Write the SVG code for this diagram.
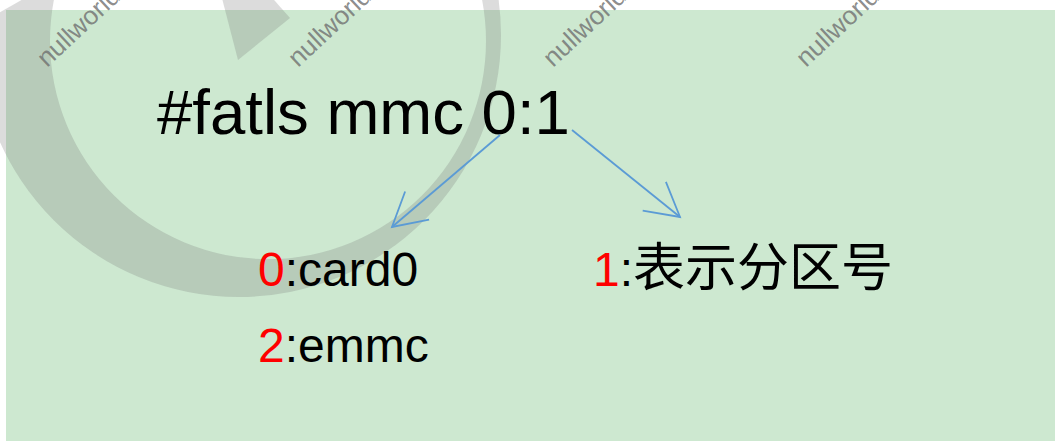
<svg xmlns="http://www.w3.org/2000/svg" width="1055" height="441" viewBox="0 0 1055 441">
  <style>
    .wm { fill: #787878; fill-opacity: 0.26; }
    .wmt { font-family: "Liberation Sans", Arial, sans-serif; font-size: 26px; fill: #6f6f6f; fill-opacity: 0.8; }
    .lat { font-family: "Liberation Sans", Arial, sans-serif; fill: #000000; }
    .red { fill: #ff0000; }
    .cjk { font-family: "Noto Sans CJK SC", "Noto Sans", sans-serif; }
    .conn { fill: none; stroke: #5b9bd5; stroke-width: 1.8; }
  </style>
  <defs>
    <marker id="open" markerUnits="userSpaceOnUse" viewBox="-40 -24 44 48" refX="0" refY="0" markerWidth="44" markerHeight="48" orient="auto" overflow="visible">
      <path d="M -33 -18.5 L 0 0 L -33 18.5" fill="none" stroke="#5b9bd5" stroke-width="1.8"/>
    </marker>
    <clipPath id="capclip">
      <polygon points="-50,41 100,-45 700,-45 700,500 -50,500"/>
    </clipPath>
  </defs>

  <!-- background -->
  <rect x="0" y="0" width="1055" height="441" fill="#ffffff"/>
  <rect x="6" y="10" width="1049" height="431" fill="#cde8d0"/>

  <!-- watermark -->
  <g id="watermark">
    <path class="wm" fill-rule="evenodd" clip-path="url(#capclip)"
      d="M -23 35 a 262 262 0 1 0 524 0 a 262 262 0 1 0 -524 0 Z M 50 41 a 218 218 0 1 0 436 0 a 218 218 0 1 0 -436 0 Z"/>
    <polygon class="wm" points="238,60 290,18 252,-25 216,-25"/>
    <text class="wmt" x="47" y="68" transform="rotate(-43 47 68)">nullworld</text>
    <text class="wmt" x="298" y="68" transform="rotate(-43 298 68)">nullworld</text>
    <text class="wmt" x="553" y="68" transform="rotate(-43 553 68)">nullworld</text>
    <text class="wmt" x="806" y="68" transform="rotate(-43 806 68)">nullworld</text>
  </g>

  <!-- nodes -->
  <g id="cmd">
    <text class="lat" x="157" y="134" font-size="63.5">#fatls mmc 0:1</text>
  </g>
  <g id="card0">
    <text class="lat" x="258" y="286" font-size="48"><tspan class="red">0</tspan>:card0</text>
  </g>
  <g id="emmc">
    <text class="lat" x="258" y="362" font-size="48"><tspan class="red">2</tspan>:emmc</text>
  </g>
  <g id="partition">
    <text class="lat" x="593" y="286" font-size="48"><tspan class="red">1</tspan>:<tspan class="cjk" font-size="52">表示分区号</tspan></text>
  </g>

  <!-- connectors -->
  <g id="connectors">
    <line class="conn" x1="500" y1="135" x2="392" y2="227" marker-end="url(#open)"/>
    <line class="conn" x1="572" y1="130" x2="680" y2="217" marker-end="url(#open)"/>
  </g>
</svg>
